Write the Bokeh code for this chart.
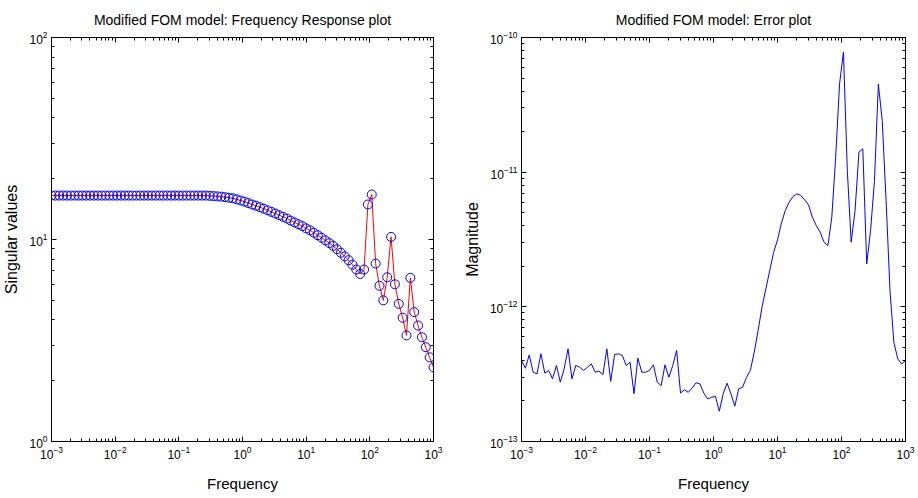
import numpy as np
from bokeh.plotting import figure
from bokeh.layouts import row
from bokeh.models import LogAxis, FixedTicker, Range1d
from bokeh.embed import file_html
from bokeh.resources import INLINE

# ---- data ----
freq = np.logspace(-3, 3, 100)

singular_values = [
    16.5, 16.5, 16.5, 16.5, 16.5, 16.5, 16.5, 16.5, 16.5, 16.5,
    16.5, 16.5, 16.5, 16.5, 16.5, 16.5, 16.5, 16.5, 16.5, 16.5,
    16.5, 16.5, 16.5, 16.5, 16.5, 16.5, 16.5, 16.5, 16.5, 16.5,
    16.5, 16.5, 16.5, 16.5, 16.5, 16.5, 16.5, 16.5, 16.5, 16.5,
    16.5, 16.45, 16.4, 16.35, 16.3, 16.2, 16.1, 16.0, 15.8, 15.6,
    15.4, 15.15, 14.9, 14.7, 14.45, 14.2, 13.95, 13.7, 13.45, 13.2,
    12.95, 12.7, 12.4, 12.15, 11.9, 11.65, 11.35, 11.1, 10.8, 10.5,
    10.2, 9.9, 9.6, 9.3, 8.95, 8.6, 8.25, 7.9, 7.5, 7.1,
    6.75, 7.1, 14.9, 16.7, 7.6, 5.9, 5.0, 6.5, 10.3, 6.0,
    4.8, 4.1, 3.35, 6.46, 4.37, 3.75, 3.28, 2.93, 2.61, 2.33,
]

error_magnitude = [
    3.99e-13, 3.50e-13, 4.40e-13, 3.27e-13, 3.18e-13, 4.48e-13, 3.22e-13, 3.37e-13, 2.92e-13, 3.67e-13,
    2.76e-13, 3.46e-13, 4.88e-13, 2.92e-13, 3.67e-13, 3.56e-13, 3.37e-13, 3.56e-13, 3.77e-13, 3.27e-13,
    3.33e-13, 3.14e-13, 4.88e-13, 2.80e-13, 4.42e-13, 4.48e-13, 4.35e-13, 3.67e-13, 3.88e-13, 2.26e-13,
    4.16e-13, 3.27e-13, 3.27e-13, 3.37e-13, 3.71e-13, 2.76e-13, 2.60e-13, 3.71e-13, 3.00e-13, 3.67e-13,
    4.74e-13, 2.29e-13, 2.42e-13, 2.32e-13, 2.50e-13, 2.73e-13, 2.68e-13, 2.29e-13, 2.07e-13, 2.13e-13,
    2.16e-13, 1.68e-13, 2.26e-13, 2.71e-13, 2.26e-13, 1.83e-13, 2.46e-13, 2.53e-13, 3.00e-13, 3.37e-13,
    4.61e-13, 6.67e-13, 9.94e-13, 1.36e-12, 1.86e-12, 2.54e-12, 3.14e-12, 4.18e-12, 5.19e-12, 5.98e-12,
    6.59e-12, 6.90e-12, 6.71e-12, 6.23e-12, 5.71e-12, 4.63e-12, 4.01e-12, 3.58e-12, 3.02e-12, 2.85e-12,
    4.63e-12, 1.29e-11, 4.52e-11, 7.77e-11, 1.03e-11, 3.02e-12, 5.19e-12, 1.41e-11, 1.49e-11, 2.08e-12,
    3.69e-12, 8.66e-12, 4.52e-11, 2.42e-11, 6.15e-12, 1.32e-12, 5.46e-13, 4.11e-13, 3.77e-13, 3.99e-13,
]

x_major = [1e-3, 1e-2, 1e-1, 1e0, 1e1, 1e2, 1e3]
left_y_major = [1e0, 1e1, 1e2]
right_y_major = [1e-13, 1e-12, 1e-11, 1e-10]


def minors(majors):
    return [m * v for v in majors[:-1] for m in range(2, 10)]


FONT = "Liberation Sans"


def style_axis(ax, majors, labels=True):
    ax.ticker = FixedTicker(ticks=majors, minor_ticks=minors(majors))
    ax.major_tick_in = 5
    ax.major_tick_out = 0
    ax.minor_tick_in = 3
    ax.minor_tick_out = 0
    ax.axis_line_color = "black"
    ax.major_tick_line_color = "black"
    ax.minor_tick_line_color = "black"
    ax.major_label_text_font = FONT
    ax.major_label_text_color = "black"
    if labels:
        ax.major_label_text_font_size = "12px"
        ax.major_label_standoff = 4
    else:
        ax.major_label_text_font_size = "1px"
        ax.major_label_text_alpha = 0
        ax.major_label_standoff = 0
    ax.axis_label_text_font = FONT
    ax.axis_label_text_font_style = "normal"
    ax.axis_label_text_color = "black"
    ax.axis_label_standoff = 6


def make_fig(title, y_range, y_major, ylabel, border_left, border_right):
    p = figure(
        width=459, height=498,
        x_axis_type="log", y_axis_type="log",
        x_range=Range1d(1e-3, 1e3), y_range=y_range,
        output_backend="svg", toolbar_location=None,
        min_border_left=border_left, min_border_right=border_right,
        min_border_top=37, min_border_bottom=57,
        title=title,
    )
    p.grid.visible = False
    p.outline_line_color = "black"
    p.background_fill_color = "white"
    p.border_fill_color = "white"
    p.title.text_font = FONT
    p.title.text_font_size = "14px"
    p.title.text_font_style = "normal"
    p.title.align = "center"
    p.title.text_color = "black"
    p.title.standoff = 19

    style_axis(p.xaxis[0], x_major)
    style_axis(p.yaxis[0], y_major)
    p.xaxis[0].axis_label = "Frequency"
    p.xaxis[0].axis_label_text_font_size = "15px"
    p.xaxis[0].axis_label_standoff = 13
    p.yaxis[0].axis_label = ylabel
    p.yaxis[0].axis_label_text_font_size = "16px"

    top = LogAxis()
    style_axis(top, x_major, labels=False)
    p.add_layout(top, "above")
    right = LogAxis()
    style_axis(right, y_major, labels=False)
    p.add_layout(right, "right")
    return p


p1 = make_fig("Modified FOM model: Frequency Response plot", Range1d(1, 100),
              left_y_major, "Singular values", 49, 26)
p1.line(freq, singular_values, line_color="#ff0000", line_width=1)
p1.scatter(freq, singular_values, marker="circle", size=9,
           fill_color=None, line_color="#0000ff", line_width=1)

p2 = make_fig("Modified FOM model: Error plot", Range1d(1e-13, 1e-10),
              right_y_major, "Magnitude", 62, 13)
p2.line(freq, error_magnitude, line_color="#0000ff", line_width=1)

layout = row(p1, p2)
open("out.html", "w").write(file_html(layout, INLINE))
